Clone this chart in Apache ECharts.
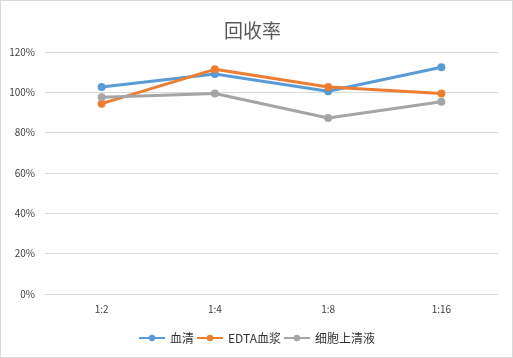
<!DOCTYPE html>
<html><head><meta charset="utf-8">
<script src="https://cdn.jsdelivr.net/npm/echarts@6/dist/echarts.min.js"></script>
<style>html,body{margin:0;padding:0;background:#fff}#c{width:513px;height:358px;box-sizing:border-box;border:1px solid #d9d9d9}</style>
</head><body><div id="c"></div>
<script>
const categories = ['1:2','1:4','1:8','1:16'];
const serum = [102.6, 109.1, 100.5, 112.4];
const edtaPlasma = [94.4, 111.4, 102.6, 99.4];
const cellSupernatant = [97.6, 99.4, 87.3, 95.3];
const seriesNames = ['血清','EDTA血浆','细胞上清液'];
const colors = ['#5B9BD5','#ED7D31','#A5A5A5'];
const chart = echarts.init(document.getElementById('c'));
const font = '"Microsoft YaHei","Noto Sans CJK SC",sans-serif';
const mk = (name, data, color) => ({
  name, type:'line', data, color,
  symbol:'circle', symbolSize:8,
  lineStyle:{width:3, color},
  itemStyle:{color}
});
chart.setOption({
  animation:false,
  title:{text:'回收率', left:218, top:15, textStyle:{fontFamily:font, fontSize:19, fontWeight:'normal', color:'#595959'}},
  grid:{left:44, right:14, top:51, bottom:63},
  legend:{bottom:8, left:'center', itemWidth:26, itemHeight:8, itemGap:2,
    textStyle:{fontFamily:font, fontSize:12, color:'#333'},
    data:seriesNames},
  xAxis:{type:'category', data:categories, boundaryGap:true,
    axisLine:{lineStyle:{color:'#d9d9d9'}}, axisTick:{show:false},
    axisLabel:{color:'#404040', fontSize:10, margin:10, fontFamily:font}},
  yAxis:{type:'value', min:0, max:120, interval:20,
    axisLabel:{formatter:'{value}%', color:'#404040', fontSize:10, margin:10, fontFamily:font},
    axisLine:{show:false}, axisTick:{show:false},
    splitLine:{lineStyle:{color:'#d9d9d9'}}},
  series:[mk(seriesNames[0], serum, colors[0]), mk(seriesNames[1], edtaPlasma, colors[1]), mk(seriesNames[2], cellSupernatant, colors[2])]
});
</script></body></html>
